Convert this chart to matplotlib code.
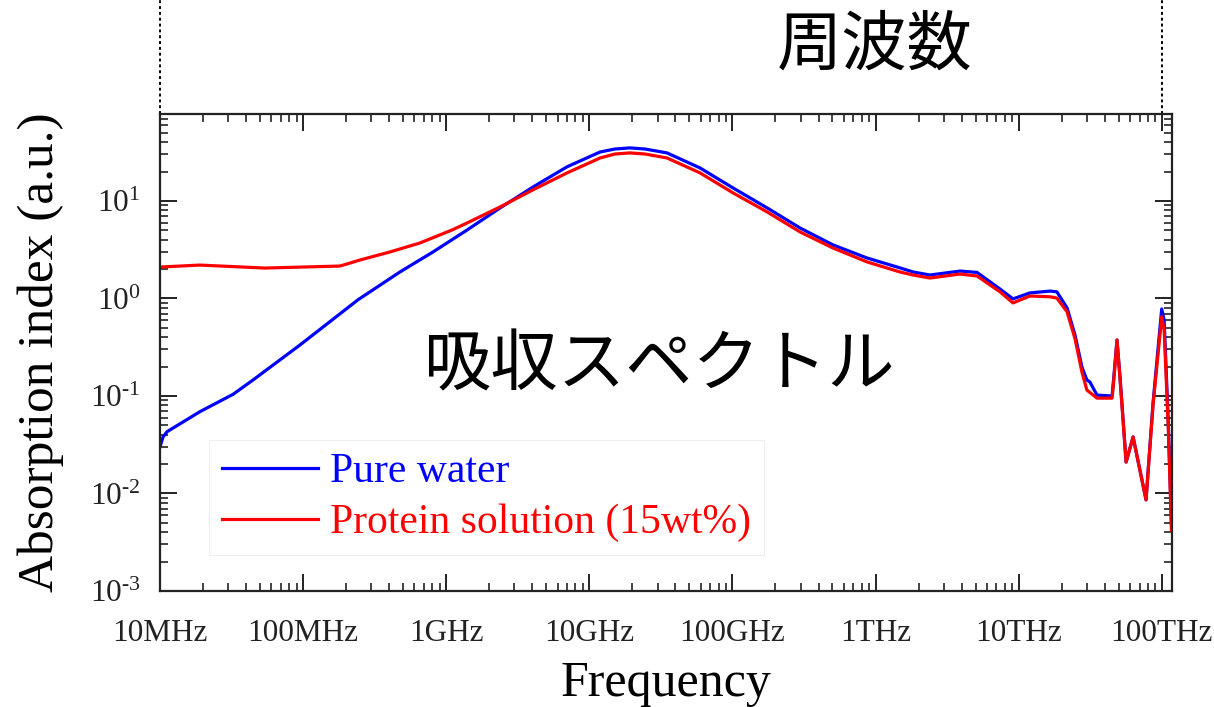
import numpy as np
import matplotlib
matplotlib.use("Agg")
import matplotlib.pyplot as plt
import matplotlib.transforms as mtransforms
from matplotlib.ticker import LogLocator, FixedLocator, FixedFormatter, NullFormatter

plt.rcParams['font.family'] = ['Liberation Serif', 'DejaVu Serif']
plt.rcParams['mathtext.fontset'] = 'custom'
plt.rcParams['mathtext.rm'] = 'Liberation Serif'
plt.rcParams['mathtext.it'] = 'Liberation Serif:italic'

# pure water (Hz, a.u.)
water_freq = [1.0e7, 1.05e7, 1.12e7, 1.9e7, 3.24e7, 4.47e7, 9.5e7, 2.42e8, 4.75e8, 8.09e8,
              1.4e9, 2.38e9, 4.04e9, 6.99e9, 1.19e10, 1.51e10, 1.92e10, 2.45e10, 3.49e10,
              5.94e10, 1.01e11, 1.75e11, 2.97e11, 5.05e11, 8.73e11, 1.48e12, 1.83e12, 2.4e12,
              3.9e12, 5.12e12, 7.41e12, 9.14e12, 1.2e13, 1.66e13, 1.85e13, 2.18e13, 2.48e13,
              2.77e13, 3.0e13, 3.15e13, 3.53e13, 4.5e13, 4.64e13, 4.87e13, 5.12e13, 5.64e13,
              6.31e13, 7.77e13, 8.7e13, 1.0e14, 1.04e14, 1.11e14, 1.17e14]
water_abs = [0.030, 0.038, 0.043, 0.069, 0.104, 0.146, 0.333, 0.97, 1.87, 3.0,
             5.04, 8.48, 13.9, 22.4, 31.8, 34.1, 35.0, 34.1, 31.1,
             21.8, 13.6, 8.48, 5.28, 3.54, 2.60, 2.06, 1.87, 1.74,
             1.91, 1.85, 1.25, 0.99, 1.14, 1.19, 1.17, 0.80, 0.42,
             0.198, 0.146, 0.139, 0.102, 0.100, 0.164, 0.375, 0.153, 0.021,
             0.038, 0.0086, 0.085, 0.78, 0.60, 0.057, 0.0048]

# protein solution 15wt% (Hz, a.u.)
protein_freq = [1.0e7, 1.9e7, 5.4e7, 1.81e8, 2.5e8, 4.05e8, 6.56e8, 1.1e9, 1.4e9, 2.38e9,
                4.04e9, 6.99e9, 1.19e10, 1.51e10, 1.92e10, 2.45e10, 3.49e10, 5.94e10,
                1.01e11, 1.75e11, 2.97e11, 5.05e11, 8.73e11, 1.48e12, 1.83e12, 2.4e12,
                3.9e12, 5.12e12, 7.41e12, 9.14e12, 1.2e13, 1.66e13, 1.85e13, 2.18e13,
                2.48e13, 2.77e13, 3.0e13, 3.53e13, 4.5e13, 4.64e13, 4.87e13, 5.12e13,
                5.64e13, 6.31e13, 7.77e13, 8.7e13, 1.0e14, 1.04e14, 1.11e14, 1.17e14]
protein_abs = [2.10, 2.20, 2.05, 2.15, 2.48, 3.0, 3.71, 5.04, 5.95, 8.68,
               13.0, 19.4, 27.6, 30.3, 31.1, 30.3, 27.6, 19.4,
               12.1, 7.71, 4.81, 3.29, 2.37, 1.87, 1.74, 1.62,
               1.78, 1.70, 1.17, 0.90, 1.06, 1.04, 1.01, 0.73,
               0.385, 0.176, 0.115, 0.095, 0.095, 0.153, 0.375, 0.146,
               0.021, 0.038, 0.0086, 0.081, 0.65, 0.475, 0.050, 0.0042]

xticks = [1e7, 1e8, 1e9, 1e10, 1e11, 1e12, 1e13, 1e14]
xticklabels = ['10MHz', '100MHz', '1GHz', '10GHz', '100GHz', '1THz', '10THz', '100THz']
yticks = [1e-3, 1e-2, 1e-1, 1e0, 1e1]
yticklabels = [r'$10^{\text{-}3}$', r'$10^{\text{-}2}$', r'$10^{\text{-}1}$', '$10^{0}$', '$10^{1}$']

fig = plt.figure(figsize=(12.14, 7.07), dpi=100)
ax = fig.add_axes([0.1318, 0.1641, 0.8336, 0.6747])

ax.plot(water_freq, water_abs, color='#0000ff', lw=2.3, label='Pure water')
ax.plot(protein_freq, protein_abs, color='#ff0000', lw=2.3, label='Protein solution (15wt%)')

ax.set_xscale('log')
ax.set_yscale('log')
ax.set_xlim(1e7, 1.18e14)
ax.set_ylim(1e-3, 78)

ax.xaxis.set_major_locator(FixedLocator(xticks))
ax.xaxis.set_major_formatter(FixedFormatter(xticklabels))
ax.yaxis.set_major_locator(FixedLocator(yticks))
ax.yaxis.set_major_formatter(FixedFormatter(yticklabels))
ax.xaxis.set_minor_locator(LogLocator(base=10, subs=np.arange(2, 10), numticks=30))
ax.yaxis.set_minor_locator(LogLocator(base=10, subs=np.arange(2, 10), numticks=30))
ax.xaxis.set_minor_formatter(NullFormatter())
ax.yaxis.set_minor_formatter(NullFormatter())

ax.tick_params(which='both', direction='in', top=True, right=True, colors='#222222')
ax.tick_params(which='major', length=12, width=1.4, labelsize=22.5)
ax.tick_params(axis='x', which='major', pad=20)
ax.tick_params(axis='y', which='major', pad=14)
ax.tick_params(which='minor', length=6, width=1.2)
for s in ax.spines.values():
    s.set_linewidth(1.6)
    s.set_color('#222222')

ax.set_xlabel('Frequency', fontsize=36, labelpad=9)
ax.set_ylabel('Absorption index (a.u.)', fontsize=37)
ax.yaxis.set_label_coords(-0.095, 0.5)

leg = ax.legend(loc='upper left', bbox_to_anchor=(0.028, 0.36), fontsize=30,
                handlelength=2.3, handletextpad=0.3, labelspacing=0.3,
                borderpad=0.3, fancybox=False, framealpha=1,
                edgecolor='#eeeeee', labelcolor='linecolor')
leg.get_frame().set_linewidth(0.8)

# dotted guides above the axes
trans = mtransforms.blended_transform_factory(ax.transData, ax.transAxes)
for xv in [1e7, 1e14]:
    ax.plot([xv, xv], [1.0, 1.24], transform=trans, color='black', lw=1.4,
            ls=(0, (1.5, 1.5)), clip_on=False)

cjk = ['Noto Sans CJK JP', 'DejaVu Sans']
fig.text(0.7208, 0.935, '周波数', family=cjk, fontsize=47, ha='center', va='center')
fig.text(0.543, 0.482, '吸収スペクトル', family=cjk, fontsize=48.5, ha='center', va='center')

fig.savefig('out.png', dpi=100)
